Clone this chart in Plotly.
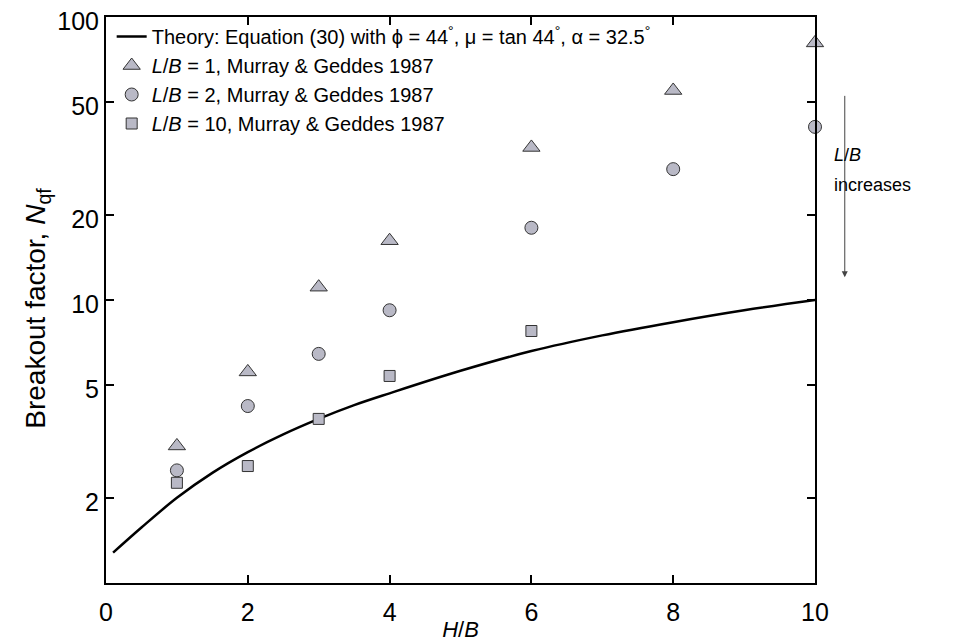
import plotly.graph_objects as go

# Theory curve
theory_x = [0.1, 0.5, 1, 1.5, 2, 2.5, 3, 3.5, 4, 5, 6, 7, 8, 9, 10]
theory_y = [1.28, 1.57, 2.0, 2.45, 2.9, 3.35, 3.8, 4.25, 4.68, 5.62, 6.6, 7.5, 8.35, 9.2, 10.0]

# Murray & Geddes 1987 data
hb = [1, 2, 3, 4, 6, 8, 10]
lb1 = [3.05, 5.57, 11.1, 16.2, 34.6, 55, 81]
lb2 = [2.5, 4.22, 6.45, 9.2, 18.0, 29, 40.9]
hb10 = [1, 2, 3, 4, 6]
lb10 = [2.26, 2.59, 3.8, 5.39, 7.77]

x_ticks = [0, 2, 4, 6, 8, 10]
y_ticks = [2, 5, 10, 20, 50, 100]

fill = "#b9b9c6"
edge = "#333333"

fig = go.Figure()
fig.add_trace(go.Scatter(
    x=theory_x, y=theory_y, mode="lines", line=dict(color="black", width=2.5, shape="spline"),
    name="Theory: Equation (30) with \u03d5 = 44<sup>\u00b0</sup>, \u03bc = tan 44<sup>\u00b0</sup>, \u03b1 = 32.5<sup>\u00b0</sup>"))
fig.add_trace(go.Scatter(
    x=hb, y=lb1, mode="markers", cliponaxis=False,
    marker=dict(symbol="triangle-up", size=15, color=fill, line=dict(color=edge, width=1)),
    name="<i>L</i>/<i>B</i> = 1, Murray & Geddes 1987"))
fig.add_trace(go.Scatter(
    x=hb, y=lb2, mode="markers", cliponaxis=False,
    marker=dict(symbol="circle", size=13, color=fill, line=dict(color=edge, width=1)),
    name="<i>L</i>/<i>B</i> = 2, Murray & Geddes 1987"))
fig.add_trace(go.Scatter(
    x=hb10, y=lb10, mode="markers", cliponaxis=False,
    marker=dict(symbol="square", size=11, color=fill, line=dict(color=edge, width=1)),
    name="<i>L</i>/<i>B</i> = 10, Murray & Geddes 1987"))

fig.add_annotation(xref="paper", yref="paper", x=1.042, y=0.540, ax=0, ay=-183,
                   axref="pixel", ayref="pixel", showarrow=True, arrowhead=2, arrowsize=1.2,
                   arrowwidth=1, arrowcolor="#444444", text="")
fig.add_annotation(xref="paper", yref="paper", x=1.024, y=0.756, xanchor="left", yanchor="middle",
                   showarrow=False, text="<i>L</i>/<i>B</i>", font=dict(size=18, color="black"))
fig.add_annotation(xref="paper", yref="paper", x=1.024, y=0.703, xanchor="left", yanchor="middle",
                   showarrow=False, text="increases", font=dict(size=18, color="black"))
# y-axis title
fig.add_annotation(xref="paper", yref="paper", x=-0.097, y=0.485, xanchor="center", yanchor="middle",
                   showarrow=False, textangle=-90,
                   text="Breakout factor, <i>N</i><sub>qf</sub>", font=dict(size=28, color="black"))

axis_common = dict(showline=True, linecolor="black", linewidth=2, mirror="ticks",
                   ticks="inside", ticklen=8, tickwidth=1.5, tickcolor="black",
                   showgrid=False, zeroline=False, automargin=False,
                   ticklabeloverflow="allow",
                   tickfont=dict(size=25, color="black"))

fig.update_layout(
    width=946, height=634,
    margin=dict(l=98, r=139, t=9, b=59, autoexpand=False),
    paper_bgcolor="white", plot_bgcolor="white",
    font=dict(family="Liberation Sans, Arial, sans-serif", color="black"),
    showlegend=True,
    legend=dict(x=0.008, y=1.0, xanchor="left", yanchor="top", bgcolor="rgba(0,0,0,0)",
                font=dict(size=20), itemwidth=30, tracegroupgap=0),
    xaxis=dict(range=[0, 10], tickvals=x_ticks, ticklabelstandoff=6,
               title=dict(text="<i>H</i>/<i>B</i>", font=dict(size=22), standoff=0),
               **axis_common),
    yaxis=dict(type="log", range=[0, 2], tickvals=y_ticks, ticktext=[str(v) for v in y_ticks],
               ticklabelshift=4, **axis_common),
)

fig.write_html("out.html")
